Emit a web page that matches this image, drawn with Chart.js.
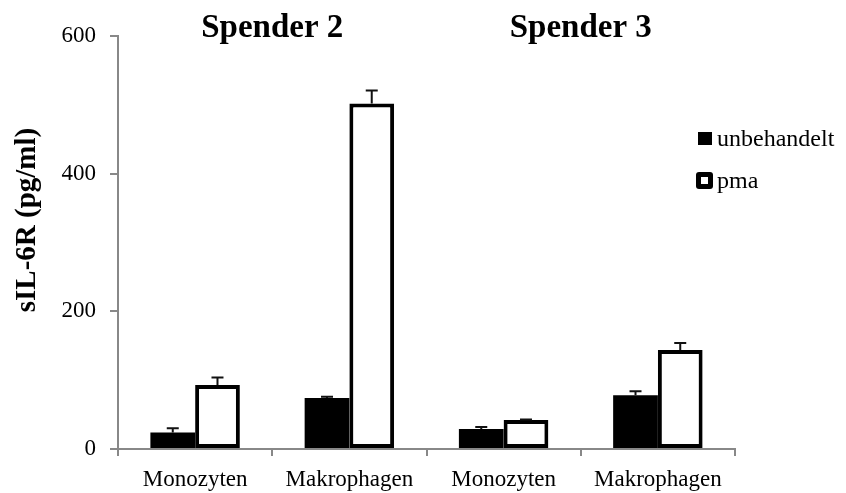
<!DOCTYPE html>
<html>
<head>
<meta charset="utf-8">
<script src="https://cdn.jsdelivr.net/npm/chart.js@4"></script>
<style>
  html, body { margin: 0; padding: 0; background: #fff; }
  #wrap { width: 846px; height: 493px; }
</style>
</head>
<body>
<div id="wrap"><canvas id="c" width="846" height="493"></canvas></div>
<script>
const categories = ['Monozyten', 'Makrophagen', 'Monozyten', 'Makrophagen'];
const groupTitles = ['Spender 2', 'Spender 3'];
const unbehandelt = [24, 74, 29, 78];
const unbehandeltErr = [6, 2, 3, 6];
const pma = [93, 502, 42, 144];
const pmaErr = [11, 19, 1, 10];
const yTicks = [0, 200, 400, 600];
const yTitle = 'sIL-6R (pg/ml)';

const FONT = "'Liberation Serif', 'DejaVu Serif', serif";

// error bars on top of each bar (upward only)
const errorBars = {
  id: 'errorBars',
  afterDatasetsDraw(chart) {
    const ctx = chart.ctx;
    const y = chart.scales.y;
    chart.data.datasets.forEach((ds, i) => {
      const meta = chart.getDatasetMeta(i);
      meta.data.forEach((bar, j) => {
        const top = y.getPixelForValue(ds.data[j] + ds.errors[j]);
        ctx.save();
        ctx.strokeStyle = '#111';
        ctx.lineWidth = 2;
        ctx.beginPath();
        ctx.moveTo(bar.x, bar.y);
        ctx.lineTo(bar.x, top);
        ctx.moveTo(bar.x - 6, top);
        ctx.lineTo(bar.x + 6, top);
        ctx.stroke();
        ctx.restore();
      });
    });
  }
};

// group titles, y title and the legend at the right
const extras = {
  id: 'extras',
  afterDraw(chart) {
    const ctx = chart.ctx;
    const x = chart.scales.x;
    ctx.save();
    ctx.fillStyle = '#000';
    ctx.font = "bold 33px " + FONT;
    ctx.textAlign = 'center';
    ctx.textBaseline = 'alphabetic';
    groupTitles.forEach((t, g) => {
      const cx = (x.getPixelForValue(g * 2) + x.getPixelForValue(g * 2 + 1)) / 2;
      ctx.fillText(t, cx, 37);
    });

    // y axis title, a bit above the middle like the original
    ctx.save();
    ctx.translate(35, 220);
    ctx.rotate(-Math.PI / 2);
    ctx.font = "bold 29px " + FONT;
    ctx.textBaseline = 'alphabetic';
    ctx.fillText(yTitle, 0, 0);
    ctx.restore();

    ctx.font = "24px " + FONT;
    ctx.textAlign = 'left';
    ctx.textBaseline = 'middle';
    const items = chart.data.datasets;
    items.forEach((ds, i) => {
      const ly = 139 + i * 42;
      if (i === 0) {
        ctx.fillStyle = ds.backgroundColor;
        ctx.fillRect(698, ly - 7, 14, 13);
      } else {
        ctx.fillStyle = '#000';
        ctx.beginPath();
        ctx.roundRect(696, ly - 9, 17, 17, 3);
        ctx.fill();
        ctx.fillStyle = '#fff';
        ctx.fillRect(701, ly - 4, 7, 7);
      }
      ctx.fillStyle = '#000';
      ctx.fillText(ds.label, 717, ly + 1);
    });
    ctx.restore();
  }
};

new Chart(document.getElementById('c'), {
  type: 'bar',
  data: {
    labels: categories,
    datasets: [
      {
        label: 'unbehandelt',
        data: unbehandelt,
        errors: unbehandeltErr,
        backgroundColor: '#000',
        borderColor: '#000',
        borderWidth: 0
      },
      {
        label: 'pma',
        data: pma,
        errors: pmaErr,
        backgroundColor: '#fff',
        borderColor: '#000',
        borderWidth: 4,
        borderSkipped: false
      }
    ]
  },
  options: {
    responsive: false,
    animation: false,
    categoryPercentage: 0.58,
    barPercentage: 1,
    layout: { padding: { top: 36, right: 111, left: 0, bottom: 0 } },
    plugins: {
      legend: { display: false },
      tooltip: { enabled: false }
    },
    scales: {
      x: {
        afterFit(axis) { axis.height = 44; },
        grid: {
          offset: true,
          drawOnChartArea: false,
          color: '#888',
          tickLength: 7,
          lineWidth: 2
        },
        border: { color: '#888', width: 2 },
        ticks: {
          color: '#000',
          font: { family: FONT, size: 23 },
          padding: 10
        }
      },
      y: {
        min: 0,
        max: 600,
        afterBuildTicks(axis) {
          axis.ticks = yTicks.map(v => ({ value: v }));
        },
        afterFit(axis) { axis.width = 118; },
        grid: {
          drawOnChartArea: false,
          color: '#888',
          tickLength: 8,
          lineWidth: 2
        },
        border: { color: '#888', width: 2 },
        ticks: {
          color: '#000',
          font: { family: FONT, size: 23 },
          padding: 14
        }
      }
    }
  },
  plugins: [errorBars, extras]
});
</script>
</body>
</html>
